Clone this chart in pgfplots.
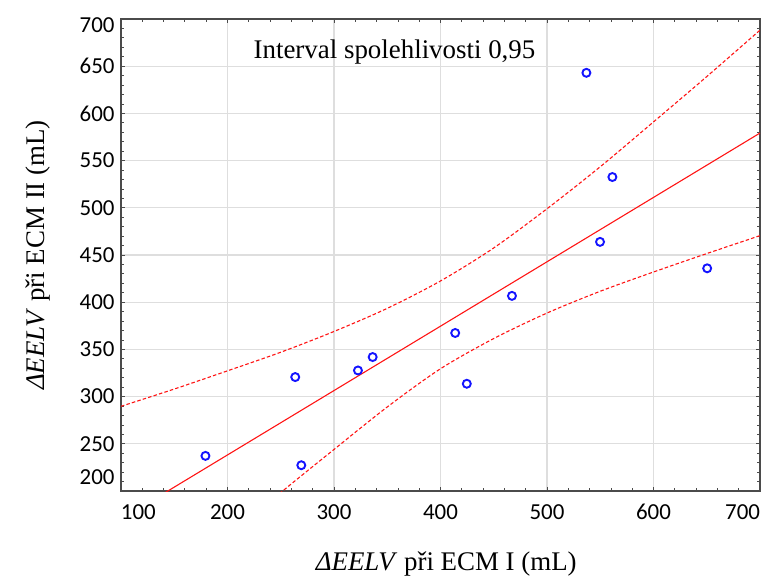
\documentclass[border=0pt]{standalone}
\usepackage{pgfplots}
\pgfplotsset{compat=1.18}
\usepackage{fontspec}
\setmainfont{Liberation Serif}
\newfontfamily\calibri{Carlito}
\definecolor{gridgray}{RGB}{222,222,222}
\definecolor{axisgray}{RGB}{75,75,75}
\definecolor{ptblue}{RGB}{20,20,255}
\definecolor{fitred}{RGB}{255,20,20}
\begin{document}
\begin{tikzpicture}
\useasboundingbox (-121bp,-90bp) rectangle (650bp,491bp);
\begin{axis}[
  scale only axis,
  width=639bp, height=472bp,
  xmin=100, xmax=700, ymin=200, ymax=700,
  xtick={100,200,...,700},
  ytick={200,250,...,700},
  xticklabels={\makebox[0pt][l]{100},200,300,400,500,600,\makebox[0pt][r]{700}},
  yticklabels={\raisebox{14bp}[\height][\depth]{200},250,300,350,400,450,500,550,600,650,\raisebox{-6bp}[\height][\depth]{700}},
  minor x tick num=4,
  minor y tick num=4,
  tick align=inside,
  major tick length=4bp,
  minor tick length=3bp,
  every tick/.style={axisgray, line width=0.8bp},
  axis line style={axisgray, line width=1.4bp},
  grid=major,
  major grid style={gridgray, line width=1.3bp},
  xticklabel style={font=\calibri\fontsize{23}{27}\selectfont, yshift=-10bp},
  yticklabel style={font=\calibri\fontsize{23}{27}\selectfont, xshift=-3bp},
  xlabel={\textit{ΔEELV} při ECM I (mL)},
  ylabel={\textit{ΔEELV} při ECM II (mL)},
  every axis x label/.style={at={(axis description cs:0.509,-0.1555)}, anchor=center, font=\fontsize{27}{32}\selectfont},
  every axis y label/.style={at={(axis description cs:-0.1299,0.5)}, anchor=center, rotate=90, font=\fontsize{27}{32}\selectfont},
]
% regression line
\addplot[fitred, line width=1.1bp] coordinates {(100,170.0) (700,579.2)};
% upper 0.95 band
\addplot[fitred, line width=1.1bp, dash pattern=on 3.5bp off 2.2bp, smooth] coordinates {
  (100,289.7) (150,308) (200,327.3) (250,347) (300,369) (350,393.5) (400,422.5)
  (450,457.5) (500,499) (550,543.5) (600,591) (650,639) (700,688.2)};
% lower 0.95 band
\addplot[fitred, line width=1.1bp, dash pattern=on 3.5bp off 2.2bp, smooth] coordinates {
  (200,150) (250,198.3) (300,244) (350,289) (400,329.5) (450,361.5) (500,388.5)
  (550,411.6) (600,432) (650,451.5) (700,470.5)};
% data points
\addplot[only marks, mark=o, mark size=4bp, ptblue, mark options={line width=1.9bp}] coordinates {
  (179.3,237.2) (263.6,320.7) (269.3,227.3) (322.5,327.7) (336.3,341.9) (413.8,367.4)
  (424.7,313.6) (467.1,406.7) (537,643) (549.8,463.9) (561.4,532.6) (650.4,435.9)};
\node[anchor=base, font=\fontsize{27}{32}\selectfont] at (rel axis cs:0.428,0.917) {Interval spolehlivosti 0,95};
\end{axis}
\end{tikzpicture}
\end{document}
